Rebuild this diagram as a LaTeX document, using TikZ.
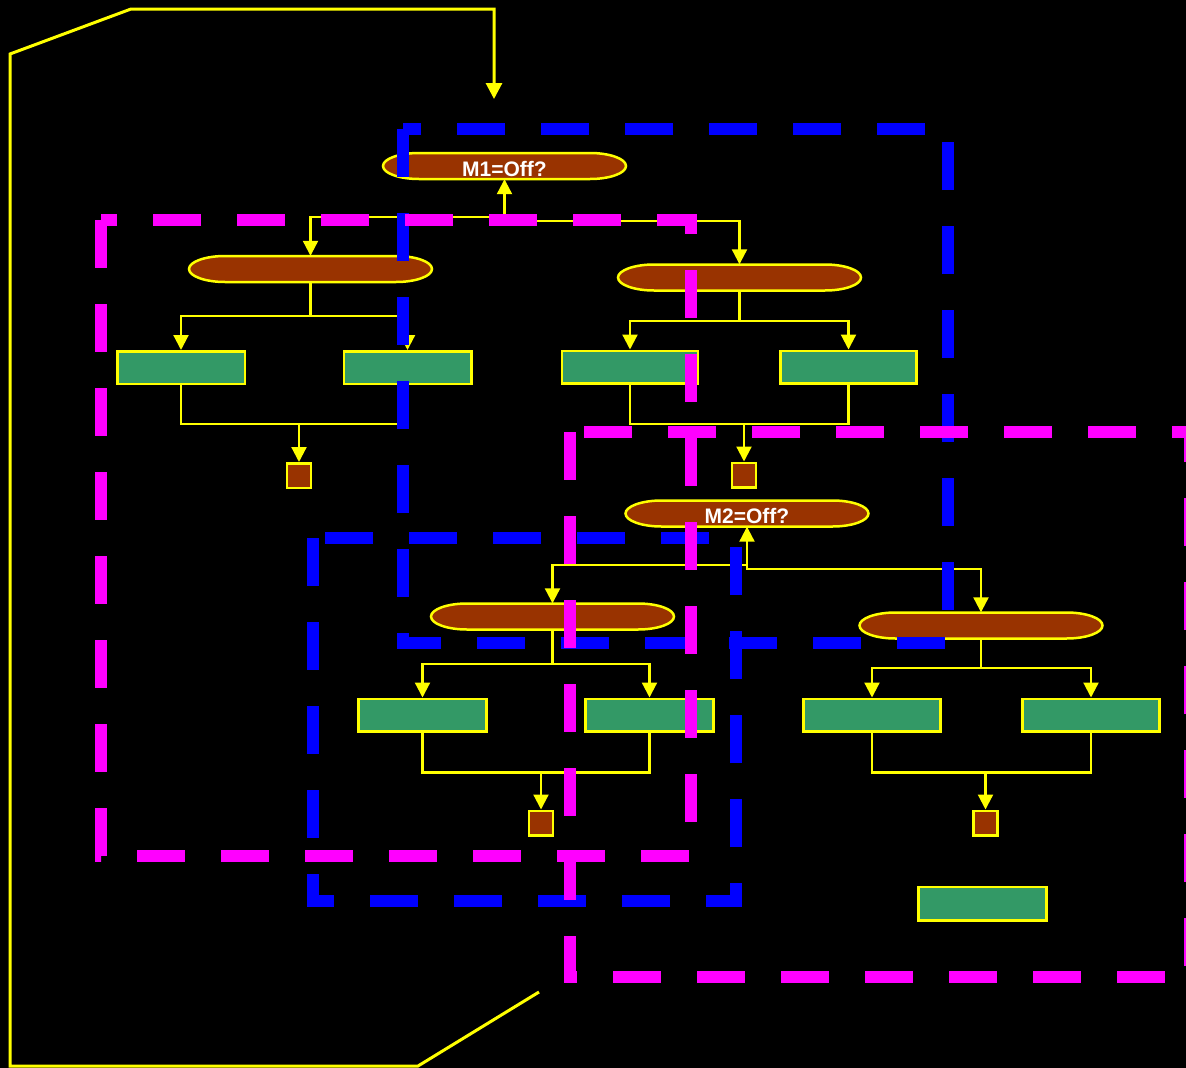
\documentclass[tikz,border=0pt]{standalone}
\usepackage{fontspec}
\setmainfont{Liberation Sans}
\usetikzlibrary{arrows.meta,calc}
\definecolor{ybrown}{RGB}{153,51,0}
\definecolor{ygreen}{RGB}{51,153,102}
\definecolor{yyel}{RGB}{255,255,0}
\definecolor{bblue}{RGB}{0,0,255}
\definecolor{mmag}{RGB}{255,0,255}
\tikzset{
  pillsty/.style={fill=ybrown, draw=yyel, line width=2.5pt},
  pilltext/.style={rectangle, minimum width=243pt, minimum height=26pt, inner sep=0pt, text=white, font=\bfseries\fontsize{21}{23}\selectfont},
  gbox/.style={rectangle, draw=yyel, fill=ygreen, line width=2.5pt, minimum height=32.5pt, inner sep=0pt},
  sqbox/.style={rectangle, draw=yyel, fill=ybrown, line width=2.5pt, minimum width=24pt, minimum height=24.5pt, inner sep=0pt},
  conn/.style={draw=yyel, line width=2.2pt},
  arr/.style={conn, -{Triangle[width=15pt,length=15pt]}},
  loopsty/.style={draw=yyel, line width=3pt, -{Triangle[width=16pt,length=16pt]}},
  dashrect/.style={line width=12pt, dash pattern=on 48pt off 36pt},
}
\newcommand\pillnode[4]{%
  \path[pillsty] (#2-85.5,#3-13) -- (#2+85.5,#3-13)
    arc[start angle=-90,end angle=90,x radius=36,y radius=13]
    -- (#2-85.5,#3+13)
    arc[start angle=90,end angle=270,x radius=36,y radius=13] -- cycle;
  \node[pilltext] (#1) at (#2,#3) {};
  \node[text=white, font=\bfseries\fontsize{21}{23}\selectfont, inner sep=0pt] at ($(#1.center)+(0,2.5)$) {#4};}
\begin{document}
\begin{tikzpicture}[x=1pt,y=-1pt]
\fill[black] (0,0) rectangle (1186,1068);
\useasboundingbox (0,0) rectangle (1186,1068);

% pills
\pillnode{M1}{504.5}{166}{M1=Off?}
\pillnode{P2}{310.5}{269}{}
\pillnode{P3}{739.5}{277.5}{}
\pillnode{M2}{747}{513.5}{M2=Off?}
\pillnode{P5}{552.5}{616.5}{}
\pillnode{P6}{981}{625.5}{}

% green boxes
\node[gbox, minimum width=127.5pt] (G1) at (181,367.5) {};
\node[gbox, minimum width=127.5pt] (G2) at (407.5,367.5) {};
\node[gbox, minimum width=136pt] (G3) at (630,367) {};
\node[gbox, minimum width=136pt] (G4) at (848.5,367) {};
\node[gbox, minimum width=128pt] (G5) at (422.5,715) {};
\node[gbox, minimum width=128pt] (G6) at (649.5,715) {};
\node[gbox, minimum width=137pt] (G7) at (872,715) {};
\node[gbox, minimum width=137pt] (G8) at (1091,715) {};
\node[gbox, minimum width=128pt, minimum height=33.5pt] (G9) at (982.5,903.5) {};

% small squares
\node[sqbox] (S1) at (299,475.5) {};
\node[sqbox] (S2) at (744,475) {};
\node[sqbox] (S3) at (541,823) {};
\node[sqbox] (S4) at (985.5,823) {};

% M1 connectors
\draw[arr] ($(M1.south)+(0,38)$) -- (M1.south);
\draw[arr] ($(M1.south)+(0,38)$) -| (P2.north);
\draw[arr] ($(M1.south)+(0,38)$) -- ($(M1.south)+(0,42)$) -| (P3.north);

% P2 group
\draw[conn] (P2.south) -- ++(0,34) coordinate (j2);
\draw[arr] (j2) -| (G1.north);
\draw[arr] (j2) -| (G2.north);
\draw[conn] (G1.south) -- ++(0,39) coordinate (b1) -| (G2.south);
\draw[arr] (S1.north |- b1) -- (S1.north);

% P3 group
\draw[conn] (P3.south) -- ++(0,30) coordinate (j3);
\draw[arr] (j3) -| (G3.north);
\draw[arr] (j3) -| (G4.north);
\draw[conn] (G3.south) -- ++(0,39.5) coordinate (b3) -| (G4.south);
\draw[arr] (S2.north |- b3) -- (S2.north);

% M2 connectors
\draw[arr] ($(M2.south)+(0,38.5)$) -- (M2.south);
\draw[arr] ($(M2.south)+(0,38.5)$) -| (P5.north);
\draw[arr] ($(M2.south)+(0,38.5)$) -- ($(M2.south)+(0,42.5)$) -| (P6.north);

% P5 group
\draw[conn] (P5.south) -- ++(0,34.5) coordinate (j5);
\draw[arr] (j5) -| (G5.north);
\draw[arr] (j5) -| (G6.north);
\draw[conn] (G5.south) -- ++(0,40) coordinate (b5) -| (G6.south);
\draw[arr] (S3.north |- b5) -- (S3.north);

% P6 group
\draw[conn] (P6.south) -- ++(0,29.5) coordinate (j6);
\draw[arr] (j6) -| (G7.north);
\draw[arr] (j6) -| (G8.north);
\draw[conn] (G7.south) -- ++(0,40) coordinate (b7) -| (G8.south);
\draw[arr] (S4.north |- b7) -- (S4.north);

% outer loop
\coordinate (loopstart) at (539,992);
\coordinate (loopend) at (494,99);
\draw[loopsty] (loopstart) -- (418,1066) -- (10,1066) -- (10,54) -- (131,9) -- (494,9) -- (loopend);

% dashed frames
\draw[dashrect, draw=bblue] (403,129) -- (403,643) -- (948,643) -- (948,129) -- cycle;
\draw[dashrect, draw=bblue] (313,538) -- (313,901) -- (736,901) -- (736,538) -- cycle;
\draw[dashrect, draw=mmag] (101,220) -- (101,856) -- (691,856) -- (691,220) -- cycle;
\draw[dashrect, draw=mmag] (570,432) -- (570,977) -- (1190,977) -- (1190,432) -- cycle;
\end{tikzpicture}
\end{document}
